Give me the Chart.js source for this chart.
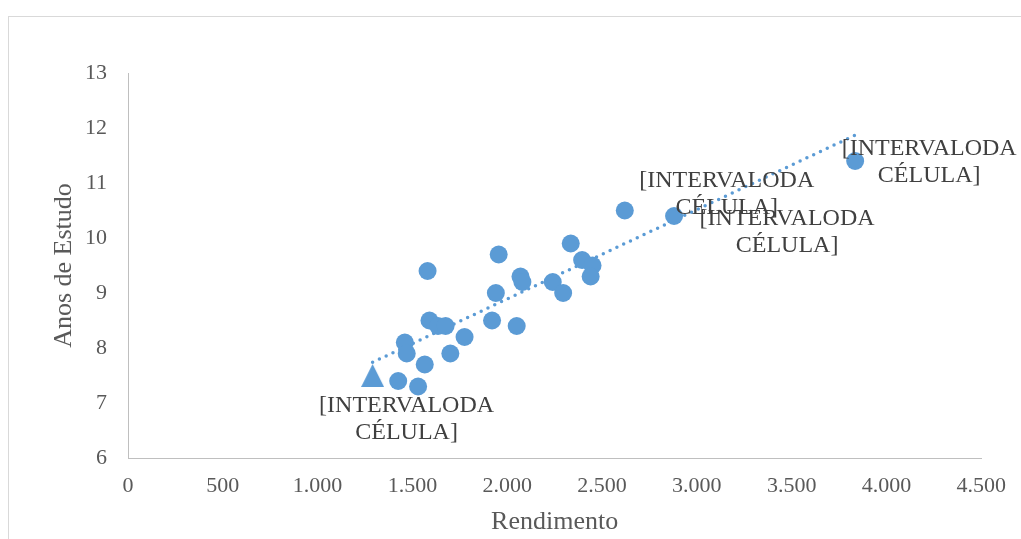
<!DOCTYPE html>
<html><head><meta charset="utf-8">
<script src="https://cdn.jsdelivr.net/npm/chart.js@4.4.1/dist/chart.umd.min.js"></script>
<style>html,body{margin:0;padding:0;background:#fff;} #wrap{width:1021px;height:539px;position:relative;}</style>
</head><body><div id="wrap"><canvas id="c" width="1021" height="539"></canvas></div>
<script>
// ---- data ----
const rendimento = [1580,1955,2335,2395,2450,2440,2070,2080,2240,2295,1940,1920,2050,1590,1635,1675,1775,1460,1470,1700,1565,1425,1530,2620,2880,3835];
const anosEstudo = [9.4,9.7,9.9,9.6,9.5,9.3,9.3,9.2,9.2,9.0,9.0,8.5,8.4,8.5,8.4,8.4,8.2,8.1,7.9,7.9,7.7,7.4,7.3,10.5,10.4,11.4];
const destaqueRendimento = [1290];
const destaqueAnos = [7.5];
const tendenciaX = [1290, 3835];
const tendenciaY = [7.74, 11.87];
const xTickValues = [0,500,1000,1500,2000,2500,3000,3500,4000,4500];
const yTickValues = [6,7,8,9,10,11,12,13];
const xTitle = 'Rendimento';
const yTitle = 'Anos de Estudo';
const rotuloLinhas = ['[INTERVALODA', 'CÉLULA]'];

const BLUE = '#5B9BD5';
const FONT = "'Liberation Serif', 'Times New Roman', serif";

function fmt(v){ return String(v).replace(/\B(?=(\d{3})+(?!\d))/g, '.'); }

// triangle marker (Excel-like, width = height)
const tri = document.createElement('canvas');
tri.width = 23; tri.height = 23;
(function(){ const g = tri.getContext('2d'); g.fillStyle = BLUE; g.beginPath(); g.moveTo(0,23); g.lineTo(11.5,0); g.lineTo(23,23); g.closePath(); g.fill(); })();

const toPts = (xs, ys) => xs.map((x, i) => ({x: x, y: ys[i]}));

// label anchors: [datasetIndex, dataIndex, dx, dy] (pixel offsets of label centre)
const labelAnchors = [[1,0,34,44],[0,23,102,-16],[0,24,113,16.5],[0,25,74,1.7]];

const bgPlugin = {
  id: 'bg',
  beforeDraw(chart){
    const ctx = chart.ctx;
    ctx.save();
    ctx.fillStyle = '#fff';
    ctx.fillRect(0,0,chart.width,chart.height);
    ctx.strokeStyle = '#D9D9D9';
    ctx.lineWidth = 1;
    ctx.strokeRect(8.5, 16.5, 2000, 2000);
    ctx.restore();
  }
};

const labelPlugin = {
  id: 'celLabels',
  afterDatasetsDraw(chart){
    const ctx = chart.ctx;
    ctx.save();
    ctx.font = "24px " + FONT;
    ctx.fillStyle = '#404040';
    ctx.textAlign = 'center';
    ctx.textBaseline = 'middle';
    const lh = 27;
    labelAnchors.forEach(a => {
      const el = chart.getDatasetMeta(a[0]).data[a[1]];
      const cx = el.x + a[2], cy = el.y + a[3];
      rotuloLinhas.forEach((t, k) => {
        ctx.fillText(t, cx, cy + (k - (rotuloLinhas.length - 1) / 2) * lh);
      });
    });
    ctx.restore();
  }
};

new Chart(document.getElementById('c'), {
  type: 'scatter',
  data: {
    datasets: [
      { label: 'Estados', data: toPts(rendimento, anosEstudo), backgroundColor: BLUE, borderColor: BLUE, borderWidth: 0, pointRadius: 9, pointHoverRadius: 9, order: 1 },
      { label: 'Destaque', data: toPts(destaqueRendimento, destaqueAnos), pointStyle: tri, backgroundColor: BLUE, borderWidth: 0, order: 1 },
      { label: 'Tendência', type: 'line', data: toPts(tendenciaX, tendenciaY), showLine: true, borderColor: BLUE, borderWidth: 3.5, borderDash: [0, 7.5], borderCapStyle: 'round', pointRadius: 0, fill: false, order: 3 }
    ]
  },
  options: {
    responsive: false,
    animation: false,
    events: [],
    layout: { padding: { top: 73, right: 38, bottom: 1, left: 40 } },
    plugins: { legend: { display: false }, tooltip: { enabled: false } },
    scales: {
      x: {
        type: 'linear', min: 0, max: 4500,
        afterBuildTicks(s){ s.ticks = xTickValues.map(v => ({value: v})); },
        afterFit(s){ s.height = 80; },
        grid: { display: false, drawTicks: false, tickLength: 0 },
        border: { display: true, color: '#BFBFBF', width: 1 },
        ticks: { color: '#595959', font: { family: FONT, size: 22 }, padding: 15, maxRotation: 0, autoSkip: false, callback: v => fmt(v) },
        title: { display: true, text: xTitle, color: '#595959', font: { family: FONT, size: 26 }, padding: { top: 0, bottom: 0 } }
      },
      y: {
        type: 'linear', min: 6, max: 13,
        afterBuildTicks(s){ s.ticks = yTickValues.map(v => ({value: v})); },
        afterFit(s){ s.width = 88; },
        grid: { display: false, drawTicks: false, tickLength: 0 },
        border: { display: true, color: '#BFBFBF', width: 1 },
        ticks: { color: '#595959', font: { family: FONT, size: 22 }, padding: 21, autoSkip: false, callback: v => fmt(v) },
        title: { display: true, text: yTitle, color: '#595959', font: { family: FONT, size: 26 }, padding: { top: 9, bottom: 0 } }
      }
    }
  },
  plugins: [bgPlugin, labelPlugin]
});
</script></body></html>
